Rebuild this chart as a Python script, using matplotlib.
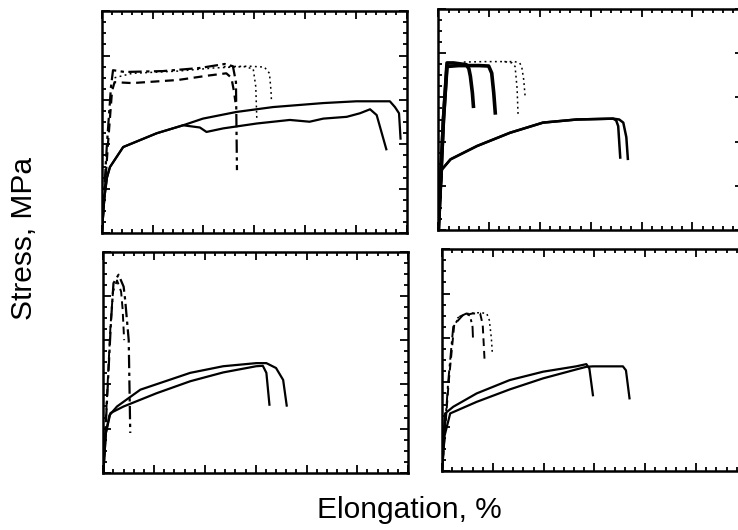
import matplotlib.pyplot as plt
from matplotlib.ticker import MultipleLocator

plt.rcParams['font.family'] = ['Liberation Sans', 'DejaVu Sans']

# values: x = elongation units, y = stress units
# top left panel
tl_solid_a_x = [0, 0.05, 0.1, 0.16, 0.42, 1.08, 1.6, 1.99, 2.65, 3.37, 4.36, 5.01, 5.67, 5.77, 5.85, 5.88]
tl_solid_a_y = [0, 0.8, 1.25, 1.49, 1.94, 2.25, 2.43, 2.58, 2.73, 2.84, 2.93, 2.97, 2.97, 2.84, 2.7, 2.13]
tl_solid_b_x = [0, 0.05, 0.1, 0.16, 0.42, 1.08, 1.6, 1.93, 2.06, 2.39, 3.05, 3.7, 4.09, 4.36, 4.82, 5.08, 5.28, 5.41, 5.6]
tl_solid_b_y = [0, 0.8, 1.25, 1.49, 1.94, 2.25, 2.43, 2.38, 2.28, 2.36, 2.47, 2.55, 2.51, 2.58, 2.62, 2.7, 2.79, 2.66, 1.89]
tl_dashdot_x = [0, 0.1, 0.18, 0.22, 0.45, 1.2, 1.93, 2.42, 2.58, 2.64, 2.66]
tl_dashdot_y = [0, 2.0, 3.3, 3.67, 3.63, 3.65, 3.72, 3.81, 3.76, 3.4, 1.42]
tl_dashed_x = [0, 0.12, 0.2, 0.25, 0.6, 1.5, 2.1, 2.45, 2.55, 2.6, 2.63]
tl_dashed_y = [0, 2.0, 3.2, 3.4, 3.38, 3.45, 3.55, 3.6, 3.5, 3.2, 2.95]
tl_dot_a_x = [0.25, 0.6, 1.5, 2.2, 2.8, 2.98, 3.03, 3.05]
tl_dot_a_y = [3.5, 3.6, 3.65, 3.72, 3.75, 3.7, 3.3, 2.59]
tl_dot_b_x = [2.4, 2.9, 3.2, 3.3, 3.33, 3.34]
tl_dot_b_y = [3.75, 3.76, 3.74, 3.6, 3.2, 2.95]

# top right panel
tr_solid_a_x = [0, 0.04, 0.07, 0.24, 0.76, 1.41, 2.06, 2.72, 3.44, 3.5, 3.54, 3.58]
tr_solid_a_y = [0, 0.9, 1.37, 1.6, 1.9, 2.2, 2.43, 2.5, 2.52, 2.48, 2.35, 1.64]
tr_solid_b_x = [0, 0.04, 0.07, 0.24, 0.76, 1.41, 2.06, 2.72, 3.44, 3.56, 3.64, 3.7, 3.73]
tr_solid_b_y = [0, 0.9, 1.37, 1.6, 1.9, 2.2, 2.43, 2.5, 2.52, 2.5, 2.43, 2.1, 1.61]
tr_thick_a_x = [0, 0.1, 0.17, 0.3, 0.55, 0.6, 0.63, 0.67, 0.69]
tr_thick_a_y = [0, 2.5, 3.78, 3.78, 3.74, 3.65, 3.48, 3.1, 2.8]
tr_thick_b_x = [0, 0.1, 0.17, 0.4, 0.8, 0.99, 1.05, 1.09, 1.12]
tr_thick_b_y = [0, 2.5, 3.7, 3.72, 3.72, 3.71, 3.55, 3.1, 2.65]
tr_dot_a_x = [0.5, 0.9, 1.3, 1.45, 1.51, 1.55, 1.57]
tr_dot_a_y = [3.8, 3.81, 3.81, 3.78, 3.7, 3.2, 2.57]
tr_dot_b_x = [1.3, 1.5, 1.6, 1.64, 1.68, 1.71]
tr_dot_b_y = [3.81, 3.81, 3.78, 3.7, 3.4, 2.99]

# bottom left panel
bl_solid_a_x = [0, 0.05, 0.12, 0.27, 0.73, 1.71, 2.36, 3.01, 3.21, 3.4, 3.54, 3.61]
bl_solid_a_y = [0, 0.9, 1.3, 1.5, 1.88, 2.26, 2.41, 2.48, 2.48, 2.37, 2.1, 1.52]
bl_solid_b_x = [0, 0.05, 0.14, 0.4, 1.05, 1.71, 2.36, 3.01, 3.14, 3.21, 3.27]
bl_solid_b_y = [0, 0.9, 1.35, 1.5, 1.8, 2.07, 2.27, 2.41, 2.42, 2.26, 1.54]
bl_dashdot_x = [0, 0.08, 0.15, 0.2, 0.3, 0.4, 0.43, 0.5, 0.53]
bl_dashdot_y = [0, 1.8, 3.4, 4.29, 4.48, 4.21, 3.91, 3.0, 0.9]
bl_dashed_x = [0, 0.08, 0.14, 0.19, 0.27, 0.35, 0.38, 0.41]
bl_dashed_y = [0, 1.9, 3.3, 4.1, 4.35, 4.1, 3.7, 3.0]

# bottom right panel
br_solid_a_x = [0, 0.03, 0.06, 0.22, 0.68, 1.33, 1.99, 2.64, 2.84, 2.9, 2.97]
br_solid_a_y = [0, 0.8, 1.3, 1.45, 1.75, 2.05, 2.24, 2.36, 2.41, 2.31, 1.71]
br_solid_b_x = [0, 0.05, 0.16, 0.68, 1.33, 1.99, 2.64, 2.84, 2.97, 3.56, 3.62, 3.69]
br_solid_b_y = [0, 0.8, 1.3, 1.56, 1.84, 2.09, 2.29, 2.35, 2.36, 2.36, 2.27, 1.64]
br_dashdot_x = [0, 0.12, 0.22, 0.35, 0.48, 0.55, 0.6, 0.61]
br_dashdot_y = [0, 2.0, 3.25, 3.48, 3.55, 3.5, 3.25, 2.95]
br_dashed_x = [0, 0.13, 0.24, 0.4, 0.6, 0.75, 0.8, 0.84]
br_dashed_y = [0, 2.0, 3.3, 3.5, 3.55, 3.55, 3.3, 2.43]
br_dot_x = [0.3, 0.5, 0.75, 0.88, 0.93, 0.97, 0.99]
br_dot_y = [3.45, 3.55, 3.57, 3.55, 3.4, 3.0, 2.65]

DASHDOT = (0, (6, 2, 1.5, 2))
DASHED = (0, (4, 2.5))
DOTTED = (0, (1.2, 2.2))

fig = plt.figure(figsize=(7.38, 5.30), dpi=100)

# panel boxes in figure fractions (the right column runs past the edge of the scan)
ax_tl = fig.add_axes([0.138, 0.560, 0.413, 0.419])
ax_tr = fig.add_axes([0.594, 0.566, 0.413, 0.417])
ax_bl = fig.add_axes([0.140, 0.108, 0.413, 0.417])
ax_br = fig.add_axes([0.599, 0.111, 0.413, 0.419])

ax_tl.plot(tl_solid_a_x, tl_solid_a_y, color='black', lw=1.6)
ax_tl.plot(tl_solid_b_x, tl_solid_b_y, color='black', lw=1.6)
ax_tl.plot(tl_dashdot_x, tl_dashdot_y, color='black', lw=1.6, ls=DASHDOT)
ax_tl.plot(tl_dashed_x, tl_dashed_y, color='black', lw=1.6, ls=DASHED)
ax_tl.plot(tl_dot_a_x, tl_dot_a_y, color='black', lw=1.1, ls=DOTTED)
ax_tl.plot(tl_dot_b_x, tl_dot_b_y, color='black', lw=1.1, ls=DOTTED)

ax_tr.plot(tr_solid_a_x, tr_solid_a_y, color='black', lw=1.8)
ax_tr.plot(tr_solid_b_x, tr_solid_b_y, color='black', lw=1.8)
ax_tr.plot(tr_thick_a_x, tr_thick_a_y, color='black', lw=2.6)
ax_tr.plot(tr_thick_b_x, tr_thick_b_y, color='black', lw=2.6)
ax_tr.plot(tr_dot_a_x, tr_dot_a_y, color='black', lw=1.1, ls=DOTTED)
ax_tr.plot(tr_dot_b_x, tr_dot_b_y, color='black', lw=1.1, ls=DOTTED)

ax_bl.plot(bl_solid_a_x, bl_solid_a_y, color='black', lw=1.6)
ax_bl.plot(bl_solid_b_x, bl_solid_b_y, color='black', lw=1.6)
ax_bl.plot(bl_dashdot_x, bl_dashdot_y, color='black', lw=1.6, ls=DASHDOT)
ax_bl.plot(bl_dashed_x, bl_dashed_y, color='black', lw=1.4, ls=DASHED)

ax_br.plot(br_solid_a_x, br_solid_a_y, color='black', lw=1.6)
ax_br.plot(br_solid_b_x, br_solid_b_y, color='black', lw=1.6)
ax_br.plot(br_dashdot_x, br_dashdot_y, color='black', lw=1.4, ls=DASHDOT)
ax_br.plot(br_dashed_x, br_dashed_y, color='black', lw=1.4, ls=DASHED)
ax_br.plot(br_dot_x, br_dot_y, color='black', lw=1.1, ls=DOTTED)

for ax in [ax_tl, ax_tr, ax_bl, ax_br]:
    ax.set_xlim(0, 6)
    ax.set_ylim(0, 5)
    ax.xaxis.set_major_locator(MultipleLocator(1))
    ax.xaxis.set_minor_locator(MultipleLocator(0.2))
    ax.yaxis.set_major_locator(MultipleLocator(1))
    ax.yaxis.set_minor_locator(MultipleLocator(0.25))
    ax.tick_params(which='both', direction='in', top=True, right=True,
                   labelbottom=False, labelleft=False, width=1.3)
    ax.tick_params(which='major', length=6)
    ax.tick_params(which='minor', length=3)
    for s in ax.spines.values():
        s.set_linewidth(1.8)

fig.text(0.032, 0.550, 'Stress, MPa', rotation=90, ha='center', va='center', fontsize=21.5)
fig.text(0.555, 0.037, 'Elongation, %', ha='center', va='center', fontsize=21.5)

fig.savefig('out.png', dpi=100)
